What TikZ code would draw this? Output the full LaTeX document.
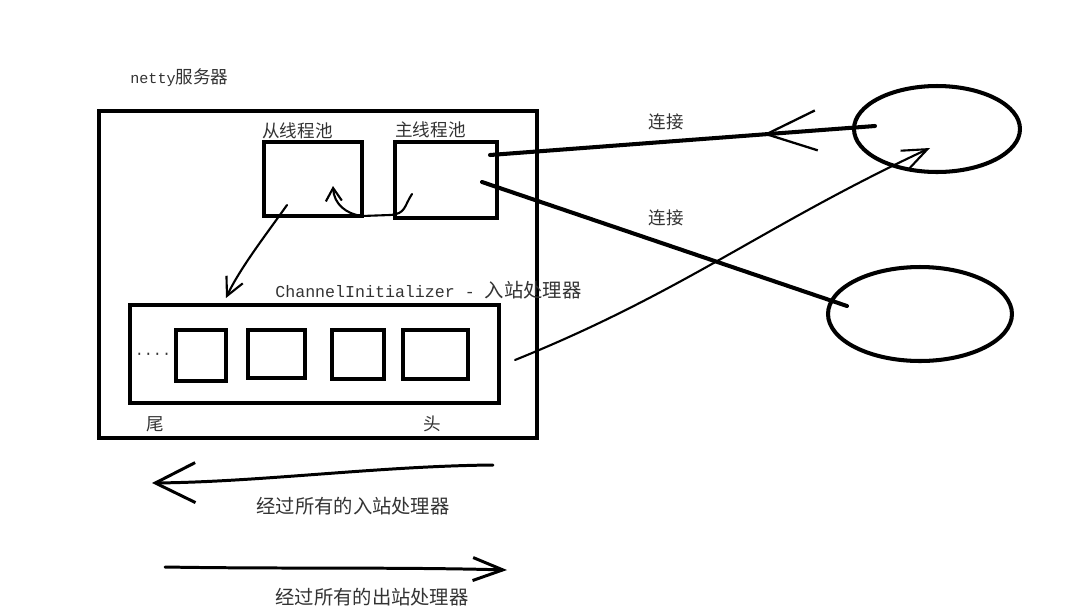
\documentclass[tikz,border=0pt]{standalone}
\usepackage{fontspec}
\setmainfont{Noto Sans CJK SC}
\setmonofont[Scale=0.86]{Liberation Mono}
\usetikzlibrary{arrows.meta,shapes.geometric,decorations.markings}
\definecolor{labelgray}{HTML}{333333}

\begin{document}
\begin{tikzpicture}[
  x=0.02cm, y=-0.02cm,
  frame/.style={
    rectangle,
    draw=black,
    line width=2.3pt,
    inner sep=0pt
  },
  client/.style={
    ellipse,
    draw=black,
    line width=2.3pt,
    inner sep=0pt
  },
  label/.style={
    font=\fontsize{10}{12}\selectfont,
    text=labelgray,
    inner sep=0pt
  },
  biglabel/.style={label, font=\fontsize{11}{13}\selectfont},
  conn/.style={line width=2.3pt, line cap=round},
  scribble/.style={line width=1.2pt, line cap=round, line join=round},
  flow/.style={line width=1.7pt, line cap=round, line join=round}
]

\useasboundingbox (0,0) rectangle (1086,613);

% server and its pools
\node[frame, minimum width=8.76cm, minimum height=6.54cm] (server) at (318,274.5) {};
\node[frame, minimum width=1.96cm, minimum height=1.48cm] (worker) at (313,179) {};
\node[frame, minimum width=2.04cm, minimum height=1.52cm] (boss) at (446,180) {};

% pipeline with handlers
\node[frame, minimum width=7.38cm, minimum height=1.96cm] (pipeline) at (314.5,354) {};
\node[frame, minimum width=1.00cm, minimum height=1.02cm] (h1) at (201,355.5) {};
\node[frame, minimum width=1.14cm, minimum height=0.96cm] (h2) at (276.5,354) {};
\node[frame, minimum width=1.04cm, minimum height=0.98cm] (h3) at (358,354.5) {};
\node[frame, minimum width=1.30cm, minimum height=0.98cm] (h4) at (435.5,354.5) {};

% clients
\node[client, minimum width=3.32cm, minimum height=1.72cm] (client1) at (937,129) {};
\node[client, minimum width=3.68cm, minimum height=1.88cm] (client2) at (920,314) {};

% texts
\node[label, anchor=west] (title) at (130,78) {\texttt{netty}服务器};
\node[label, anchor=west] (workerlbl) at (262,131) {从线程池};
\node[label, anchor=west] (bosslbl) at (395,130) {主线程池};
\node[biglabel, anchor=west] (initlbl) at (275,290) {\texttt{ChannelInitializer - }入站处理器};
\node[label] (dots) at (153,356) {\texttt{····}};
\node[label] (tail) at (155,424) {尾};
\node[label] (head) at (432,424) {头};
\node[label] (connlbl1) at (666,122) {连接};
\node[label] (connlbl2) at (666,218) {连接};
\node[biglabel] (inlbl) at (353,506) {经过所有的入站处理器};
\node[biglabel] (outlbl) at (372,597) {经过所有的出站处理器};

% connector ends
\coordinate (bossout1) at (490,155);
\coordinate (c1in) at (875,126);
\coordinate (bossout2) at (482,182);
\coordinate (c2in) at (847,306);
\coordinate (pipeout) at (515,360);
\coordinate (c1tip) at (930,148);
\coordinate (bossdown) at (412,194);
\coordinate (workerup) at (333,186);
\coordinate (workerdown) at (287,205);
\coordinate (pipein) at (226,298);
\coordinate (inbegin) at (493,465);
\coordinate (inend) at (152,483);
\coordinate (outbegin) at (165,567);
\coordinate (outend) at (507,570);

\draw[conn, postaction={decorate},
  decoration={markings, mark=at position 0.29 with
    {\arrow[line width=1.3pt]{Straight Barb[length=10mm,width=8mm]}}}]
  (c1in) -- (bossout1);
\draw[conn] (bossout2) -- (c2in);
\draw[scribble, -{Straight Barb[length=5mm,width=4mm]}]
  (pipeout) to[out=22,in=205] (c1tip);

\draw[scribble, -{Straight Barb[length=2.6mm,width=3.2mm]}]
  (bossdown) .. controls (404,206) and (406,214) .. (390,215)
  -- (362,216) .. controls (346,214) and (334,204) .. (workerup);
\draw[scribble, -{Straight Barb[length=3.6mm,width=3.6mm]}]
  (workerdown) .. controls (268,232) and (240,268) .. (pipein);

\draw[flow, -{Straight Barb[length=8mm,width=8mm]}]
  (inbegin) .. controls (380,466) and (260,482) .. (inend);
\draw[flow, -{Straight Barb[length=6mm,width=4.6mm]}]
  (outbegin) .. controls (280,569) and (400,567) .. (outend);

\end{tikzpicture}
\end{document}
